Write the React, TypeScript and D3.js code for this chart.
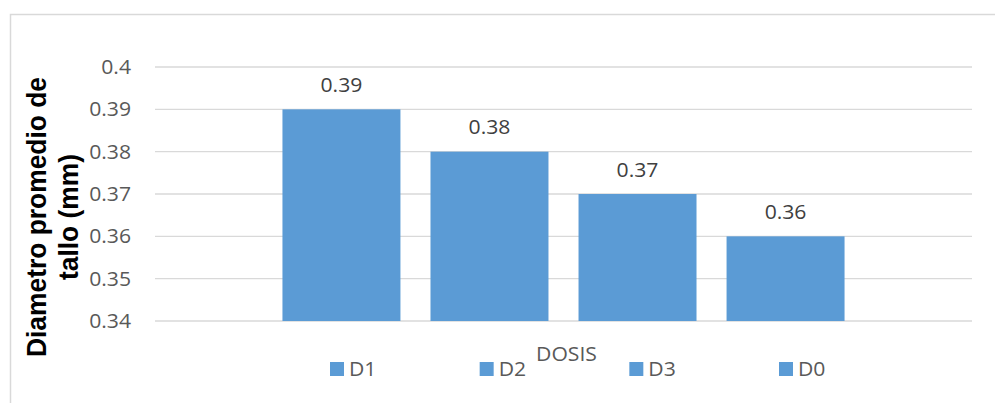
import React from "react";
import * as d3 from "d3";

const series = ["D1", "D2", "D3", "D0"];
const values = [0.39, 0.38, 0.37, 0.36];
const yTicks = [0.34, 0.35, 0.36, 0.37, 0.38, 0.39, 0.4];
const yTickLabels = ["0.34", "0.35", "0.36", "0.37", "0.38", "0.39", "0.4"];
const dataLabels = ["0.39", "0.38", "0.37", "0.36"];
const xTitle = "DOSIS";
const yTitleLines = ["Diametro promedio de", "tallo (mm)"];

const W = 995;
const H = 403;
const SX = 1.08;
const plot = { left: 155, right: 972, top: 67, bottom: 321 };
const barColor = "#5B9BD5";
const gridColor = "#D9D9D9";
const textColor = "#595959";
const labelColor = "#404040";
const font = "'Open Sans', sans-serif";
const fs = 19.6;

function T({ x, y, anchor = "start", children, fill = textColor, size = fs, weight = 400, family = font, rotate = 0 }: any) {
  return (
    <text
      transform={`translate(${x},${y}) scale(${SX},1)${rotate ? ` rotate(${rotate})` : ""}`}
      textAnchor={anchor}
      fill={fill}
      fontSize={size}
      fontWeight={weight}
      fontFamily={family}
    >
      {children}
    </text>
  );
}

export default function App() {
  const x = d3
    .scaleBand<string>()
    .domain(series)
    .range([plot.left, plot.right])
    .paddingInner(0.203)
    .paddingOuter(0.861);
  const y = d3.scaleLinear().domain([0.34, 0.4]).range([plot.bottom, plot.top]);

  const legendX = d3.scalePoint<string>().domain(series).range([330, 779]);

  return (
    <svg width={W} height={H} style={{ position: "absolute", left: 0, top: 0, background: "#fff" }}>
      <rect x={10.5} y={14.5} width={995} height={400} fill="#fff" stroke={gridColor} strokeWidth={1.5} />
      {yTicks.map((t, i) => (
        <g key={i}>
          <line x1={plot.left} x2={plot.right} y1={y(t)} y2={y(t)} stroke={gridColor} strokeWidth={1.3} />
          <T x={131} y={y(t) + 7} anchor="end">
            {yTickLabels[i]}
          </T>
        </g>
      ))}
      {series.map((s, i) => (
        <g key={s}>
          <rect
            x={x(s)}
            y={y(values[i])}
            width={x.bandwidth()}
            height={y(0.34) - y(values[i])}
            fill={barColor}
          />
          <T x={(x(s) as number) + x.bandwidth() / 2} y={y(values[i]) - 17.5} anchor="middle" fill={labelColor}>
            {dataLabels[i]}
          </T>
        </g>
      ))}
      <T x={(plot.left + plot.right) / 2 + 3} y={361} anchor="middle">
        {xTitle}
      </T>
      {series.map((s) => (
        <g key={"lg" + s}>
          <rect x={legendX(s)} y={362} width={14} height={14} fill={barColor} />
          <T x={(legendX(s) as number) + 19} y={376}>
            {s}
          </T>
        </g>
      ))}
      <T x={46} y={217} anchor="middle" rotate={-90} fill="#000" weight={700} size={26.4} family="'Liberation Sans', Arial, sans-serif">
        {yTitleLines[0]}
      </T>
      <T x={78} y={217} anchor="middle" rotate={-90} fill="#000" weight={700} size={26.4} family="'Liberation Sans', Arial, sans-serif">
        {yTitleLines[1]}
      </T>
    </svg>
  );
}
